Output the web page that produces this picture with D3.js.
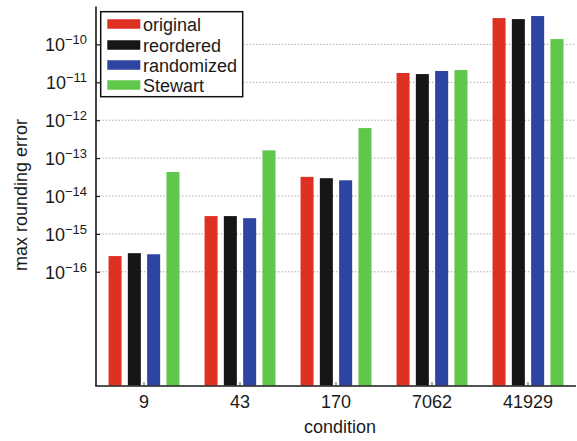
<!DOCTYPE html>
<html>
<head>
<meta charset="utf-8">
<script src="https://cdn.jsdelivr.net/npm/d3@7"></script>
<style>
  html, body { margin: 0; padding: 0; background: #fff; }
  svg { display: block; }
  text { font-family: "Liberation Sans", Arial, Helvetica, sans-serif; fill: #1a1a1a; }
</style>
</head>
<body>
<svg id="chart" width="577" height="441"></svg>
<script>
// ---- data ----
const categories = ["9", "43", "170", "7062", "41929"];
const seriesNames = ["original", "reordered", "randomized", "Stewart"];
const original   = [2.6e-16, 2.95e-15, 3.2e-14, 1.76e-11, 4.95e-10];
const reordered  = [3.1e-16, 2.95e-15, 2.95e-14, 1.65e-11, 4.65e-10];
const randomized = [2.9e-16, 2.6e-15, 2.6e-14, 1.99e-11, 5.6e-10];
const stewart    = [4.3e-14, 1.6e-13, 6.2e-13, 2.1e-11, 1.38e-10];
const seriesColors = ["#df3024", "#161616", "#2d44a0", "#5fc74a"];
const yTickExponents = [-16, -15, -14, -13, -12, -11, -10];
const yDomain = [1e-19, 1e-9];

const seriesValues = [original, reordered, randomized, stewart];

// ---- layout ----
const svg = d3.select("#chart");
const plotL = 96, plotR = 576, plotT = 6.5, plotB = 385.5, axisY = 386;

const x0 = d3.scaleBand().domain(categories).range([plotL, plotR]).paddingInner(0).paddingOuter(0);
const x1 = d3.scaleBand().domain(seriesNames).range([0, x0.bandwidth()]).paddingInner(0.326).paddingOuter(0.65);
const y = d3.scaleLog().domain(yDomain).range([plotB, plotT]);

const tickVals = yTickExponents.map(e => Math.pow(10, e));

// gridlines
svg.append("g").selectAll("line").data(tickVals).join("line")
  .attr("x1", plotL).attr("x2", plotR)
  .attr("y1", d => y(d)).attr("y2", d => y(d))
  .attr("stroke", "#9a9a9a").attr("stroke-width", 1)
  .attr("stroke-dasharray", "1.2,2");

// bars
const groups = svg.append("g").selectAll("g").data(categories).join("g")
  .attr("transform", d => `translate(${x0(d)},0)`);
groups.selectAll("rect")
  .data((c, i) => seriesNames.map((s, j) => ({ s, j, v: seriesValues[j][i] })))
  .join("rect")
  .attr("x", d => x1(d.s))
  .attr("width", x1.bandwidth())
  .attr("y", d => y(d.v))
  .attr("height", d => plotB - y(d.v))
  .attr("fill", d => seriesColors[d.j]);

// y axis
const yAxis = svg.append("g").attr("transform", `translate(${plotL},0)`)
  .call(d3.axisLeft(y).tickValues(tickVals).tickSize(-4).tickFormat(""));
yAxis.select(".domain").remove();
yAxis.selectAll(".tick line").attr("stroke", "#1a1a1a").attr("stroke-width", 1.2);
svg.append("line").attr("x1", plotL).attr("x2", plotL).attr("y1", plotT).attr("y2", axisY)
  .attr("stroke", "#1a1a1a").attr("stroke-width", 1.6);

// y tick labels with superscripts
const yl = svg.append("g").selectAll("text").data(yTickExponents).join("text")
  .attr("x", 87).attr("y", d => y(Math.pow(10, d)) + 7)
  .attr("text-anchor", "end").attr("font-size", 18);
yl.append("tspan").text("10");
yl.append("tspan").attr("font-size", 13).attr("dy", -7).text(d => "\u2212" + Math.abs(d));

// x axis
const xAxis = svg.append("g").attr("transform", `translate(0,${axisY})`)
  .call(d3.axisBottom(x0).tickSize(-4).tickPadding(0).tickFormat(""));
xAxis.select(".domain").remove();
xAxis.selectAll(".tick line").attr("stroke", "#555").attr("stroke-width", 1);
svg.append("line").attr("x1", plotL - 0.8).attr("x2", plotR).attr("y1", axisY).attr("y2", axisY)
  .attr("stroke", "#1a1a1a").attr("stroke-width", 1.6);
svg.append("g").selectAll("text").data(categories).join("text")
  .attr("x", d => x0(d) + x0.bandwidth() / 2)
  .attr("y", 408).attr("text-anchor", "middle").attr("font-size", 18)
  .text(d => d);

// axis titles
svg.append("text").attr("x", 340).attr("y", 433).attr("text-anchor", "middle")
  .attr("font-size", 18).text("condition");
svg.append("text").attr("transform", "translate(27,195) rotate(-90)")
  .attr("text-anchor", "middle").attr("font-size", 18).text("max rounding error");

// legend
const legend = svg.append("g");
legend.append("rect").attr("x", 100.7).attr("y", 11.7).attr("width", 142).attr("height", 85)
  .attr("fill", "#fff").attr("stroke", "#111").attr("stroke-width", 1.5);
const rowY = [24, 45, 65, 85];
const items = legend.selectAll("g.item").data(seriesNames).join("g").attr("class", "item");
items.append("rect").attr("x", 107.3).attr("width", 33).attr("height", 9.5)
  .attr("y", (d, i) => rowY[i] - 4.75).attr("fill", (d, i) => seriesColors[i]);
items.append("text").attr("x", 143).attr("y", (d, i) => rowY[i] + 6.5)
  .attr("font-size", 18).text(d => d);
</script>
</body>
</html>
